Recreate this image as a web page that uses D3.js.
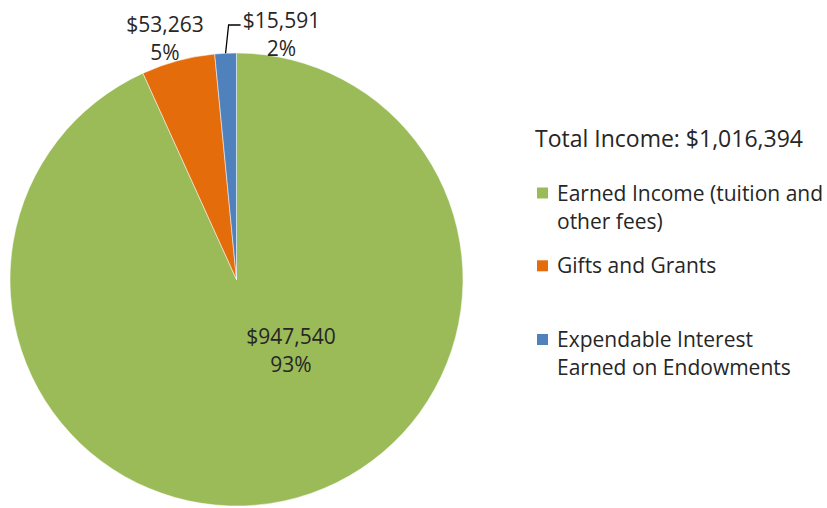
<!DOCTYPE html>
<html><head><meta charset="utf-8">
<script src="https://cdn.jsdelivr.net/npm/d3@7"></script>
<style>body{margin:0;background:#fff}svg{display:block;font-family:"Open Sans",Lato,sans-serif}</style>
</head><body><svg id="c" width="827" height="508"></svg>
<script>
const categories = ["Earned Income (tuition and other fees)", "Gifts and Grants", "Expendable Interest Earned on Endowments"];
const values = [947540, 53263, 15591];
const colors = ["#9BBB59", "#E46C0A", "#4F81BD"];
const legendLines = [["Earned Income (tuition and", "other fees)"], ["Gifts and Grants"], ["Expendable Interest", "Earned on Endowments"]];
const title = "Total Income: $1,016,394";

const svg = d3.select("#c");
const cx = 236.5, cy = 279.5, r = 226.5;
const total = d3.sum(values);
const pie = d3.pie().sort(null).value(d => d)(values);
const arc = d3.arc().innerRadius(0).outerRadius(r);
const g = svg.append("g").attr("transform", `translate(${cx},${cy})`);
g.selectAll("path").data(pie).join("path")
  .attr("d", arc).attr("fill", (d, i) => colors[i])
  .attr("stroke", "#fff").attr("stroke-width", 0.5);

const fmt = d3.format("$,");
const pct = v => Math.round(v / total * 100) + "%";
const fs = 21;
const tf = "#262626";
// label positions (relative to pie center)
const labelPos = [[54.5, 64], [-71.5, -247.5], [45, -251.5]];
pie.forEach((d, i) => {
  const [lx, ly] = labelPos[i];
  const t = g.append("text").attr("text-anchor", "middle").attr("font-size", fs).attr("fill", tf);
  t.append("tspan").attr("x", lx).attr("y", ly).text(fmt(values[i]));
  t.append("tspan").attr("x", lx).attr("y", ly + 28).text(pct(values[i]));
});
// leader line for smallest slice
const mid = (pie[2].startAngle + pie[2].endAngle) / 2;
const px = Math.sin(mid) * r, py = -Math.cos(mid) * r;
g.append("path").attr("d", `M${px},${py} L${px + 3},${-254.5} L${px + 15},${-254.5}`)
  .attr("fill", "none").attr("stroke", "#000").attr("stroke-width", 1.3);

svg.append("text").attr("x", 535).attr("y", 146.7).attr("font-size", 23).attr("fill", tf).text(title);
const legY = [200.5, 273.3, 347];
legendLines.forEach((lines, i) => {
  svg.append("rect").attr("x", 537).attr("y", legY[i] - 13).attr("width", 11).attr("height", 11).attr("fill", colors[i]);
  lines.forEach((l, j) => {
    svg.append("text").attr("x", 557).attr("y", legY[i] + j * 28).attr("font-size", fs).attr("fill", tf).text(l);
  });
});
</script></body></html>
